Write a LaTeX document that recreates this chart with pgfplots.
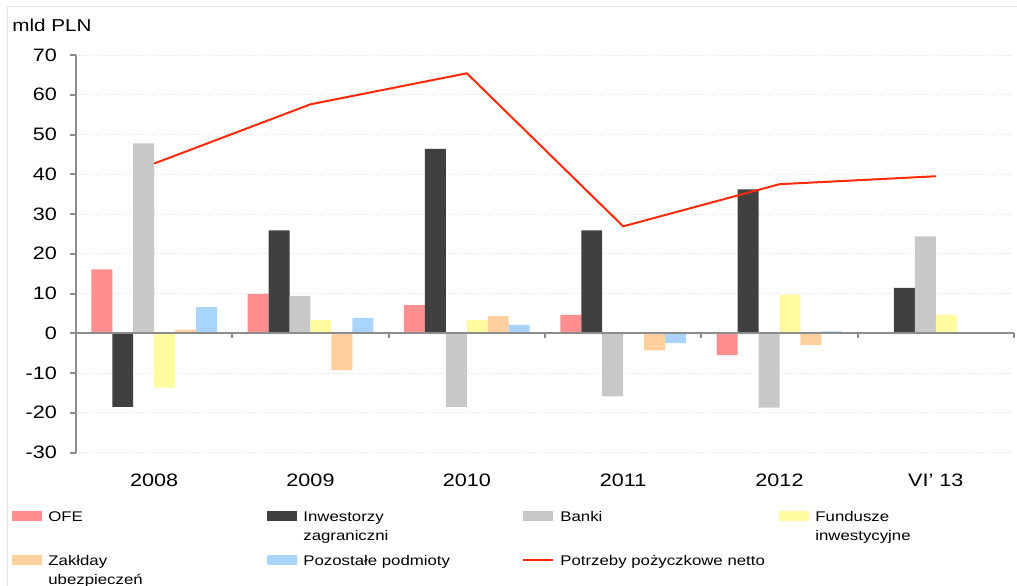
\documentclass[border=0pt]{standalone}
\usepackage{fontspec}
\setmainfont[FakeStretch=1.2]{Liberation Sans}
\usepackage{pgfplots}
\pgfplotsset{compat=1.18}
\definecolor{cOFE}{HTML}{FF8F8F}
\definecolor{cInw}{HTML}{404040}
\definecolor{cBank}{HTML}{C8C8C8}
\definecolor{cFund}{HTML}{FFFB9E}
\definecolor{cZak}{HTML}{FFD09E}
\definecolor{cPoz}{HTML}{A8D4FF}
\definecolor{cLine}{HTML}{FF2A0A}
\definecolor{cAx}{HTML}{8C8C8C}
\begin{document}
\begin{tikzpicture}
\begin{axis}[
  scale only axis, width=469pt, height=198.75pt,
  xmin=-0.5, xmax=5.5, ymin=-30, ymax=70,
  axis y line=left, axis x line=bottom,
  axis line style={-},
  x axis line style={draw=none},
  y axis line style={cAx, line width=1pt},
  ytick={-30,-20,...,70},
  xtick={0,...,5},
  xticklabels={2008,2009,2010,2011,2012,{VI' 13}},
  xtick style={draw=none},
  ytick style={cAx, line width=1pt},
  tick align=outside, major tick length=3pt,
  ymajorgrids, y grid style={densely dotted, gray!25, line width=0.5pt},
  yticklabel style={font=\fontsize{9}{10}\selectfont, xshift=-3pt},
  xticklabel style={font=\fontsize{9}{10}\selectfont, yshift=-4pt},
  /pgf/number format/assume math mode=true,
  clip=false,
  legend columns=4,
  legend style={at={(0,0)}, anchor=north west, xshift=-32pt, yshift=-27pt,
    draw=none, fill=none, inner sep=0pt, column sep=1pt, row sep=11.5pt,
    cells={anchor=base west, inner sep=0pt},
    font=\fontsize{7}{9.5}\selectfont},
]
\addplot[ybar, bar width=0.134, bar shift=-0.335, fill=cOFE, draw=none,
  legend image code/.code={\fill[cOFE] (0pt,0pt) rectangle (15pt,5pt);}]
  coordinates {(0,16.1) (1,9.9) (2,7.1) (3,4.6) (4,-5.5) (5,0)};
\addlegendentry{\parbox[t]{106.5pt}{OFE}}
\addplot[ybar, bar width=0.134, bar shift=-0.201, fill=cInw, draw=none,
  legend image code/.code={\fill[cInw] (0pt,0pt) rectangle (15pt,5pt);}]
  coordinates {(0,-18.5) (1,25.9) (2,46.4) (3,25.9) (4,36.2) (5,11.4)};
\addlegendentry{\parbox[t]{106.5pt}{Inwestorzy\\zagraniczni}}
\addplot[ybar, bar width=0.134, bar shift=-0.067, fill=cBank, draw=none,
  legend image code/.code={\fill[cBank] (0pt,0pt) rectangle (15pt,5pt);}]
  coordinates {(0,47.8) (1,9.4) (2,-18.5) (3,-15.9) (4,-18.7) (5,24.4)};
\addlegendentry{\parbox[t]{106.5pt}{Banki}}
\addplot[ybar, bar width=0.134, bar shift=0.067, fill=cFund, draw=none,
  legend image code/.code={\fill[cFund] (0pt,0pt) rectangle (15pt,5pt);}]
  coordinates {(0,-13.7) (1,3.3) (2,3.3) (3,0) (4,9.75) (5,4.6)};
\addlegendentry{\parbox[t]{106.5pt}{Fundusze\\inwestycyjne}}
\addplot[ybar, bar width=0.134, bar shift=0.201, fill=cZak, draw=none,
  legend image code/.code={\fill[cZak] (0pt,0pt) rectangle (15pt,5pt);}]
  coordinates {(0,0.9) (1,-9.3) (2,4.3) (3,-4.3) (4,-3) (5,0.3)};
\addlegendentry{\parbox[t]{106.5pt}{Zakłday\\ubezpieczeń}}
\addplot[ybar, bar width=0.134, bar shift=0.335, fill=cPoz, draw=none,
  legend image code/.code={\fill[cPoz] (0pt,0pt) rectangle (15pt,5pt);}]
  coordinates {(0,6.6) (1,3.9) (2,2.1) (3,-2.5) (4,0.5) (5,0.2)};
\addlegendentry{\parbox[t]{106.5pt}{Pozostałe podmioty}}
\draw[cAx, line width=1pt] (axis cs:-0.5,0) -- (axis cs:5.5,0);
\draw[cAx, line width=1pt] (axis cs:0.5,0) -- (axis cs:0.5,-1.3);
\draw[cAx, line width=1pt] (axis cs:1.5,0) -- (axis cs:1.5,-1.3);
\draw[cAx, line width=1pt] (axis cs:2.5,0) -- (axis cs:2.5,-1.3);
\draw[cAx, line width=1pt] (axis cs:3.5,0) -- (axis cs:3.5,-1.3);
\draw[cAx, line width=1pt] (axis cs:4.5,0) -- (axis cs:4.5,-1.3);
\draw[cAx, line width=1pt] (axis cs:5.5,0) -- (axis cs:5.5,-1.3);
\addplot[cLine, line width=1pt, mark=none, sharp plot,
  legend image code/.code={\draw[cLine, line width=1pt] (0pt,2.5pt) -- (15pt,2.5pt);}]
  coordinates {(0,42.7) (1,57.6) (2,65.4) (3,26.9) (4,37.5) (5,39.5)};
\addlegendentry{\parbox[t]{106.5pt}{Potrzeby pożyczkowe netto}}
\node[anchor=west, inner sep=0pt, font=\fontsize{8.6}{10}\selectfont, xshift=-32pt, yshift=15pt] at (rel axis cs:0,1) {mld PLN};
\end{axis}
\draw[gray!20] (-34.5pt,-80pt) -- (-34.5pt,223.25pt) -- (480pt,223.25pt);
\pgfresetboundingbox
\path[use as bounding box] (-38pt,-66.25pt) rectangle (470.5pt,226.25pt);
\end{tikzpicture}
\end{document}
